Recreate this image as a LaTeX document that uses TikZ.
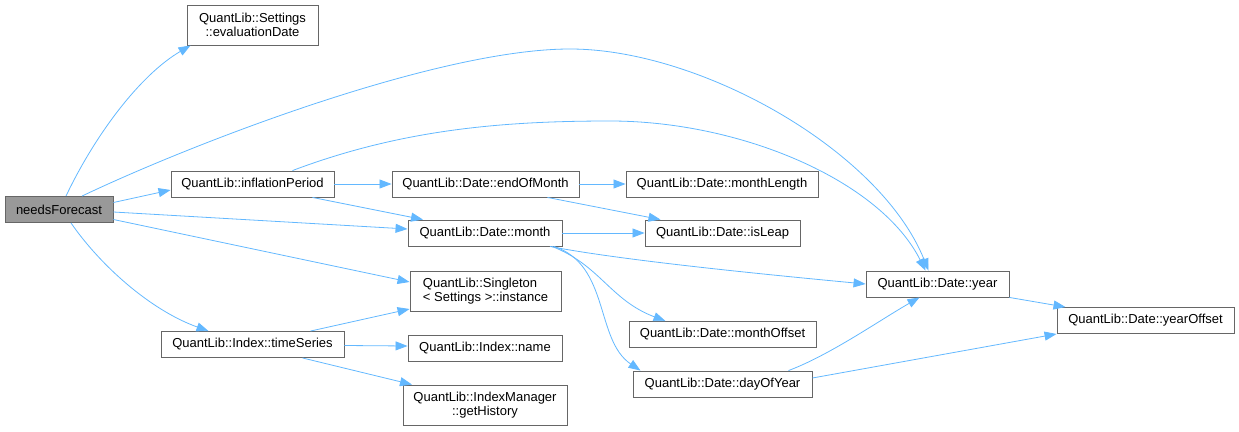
\documentclass[tikz,border=0pt]{standalone}
\usepackage{fontspec}
\setmainfont{Liberation Sans}
\usepackage{tikz}
\usetikzlibrary{
    arrows.meta,
    positioning,
    calc
}
\definecolor{EdgeBlue}{RGB}{99,184,255}
\definecolor{BoxGray}{RGB}{102,102,102}
\definecolor{RootGray}{RGB}{153,153,153}
\tikzset{
  func/.style  = {draw=BoxGray, line width=0.9pt, fill=white, inner sep=0pt,
                  minimum height=26pt, align=center,
                  font=\fontsize{13}{14.5}\selectfont},
  func2/.style = {func, minimum height=40pt},
  root/.style  = {func, fill=RootGray},
  arr/.style   = {-{Triangle[length=12pt,width=9pt]}, EdgeBlue, line width=0.8pt}
}

\begin{document}
\begin{tikzpicture}[x=1pt, y=-1pt]
\useasboundingbox (0,0) rectangle (1239,431);
% nodes, placed as the layout puts them
\node[root,minimum width=108pt]  (nF)  at (59,209.5)   {needsForecast};
\node[func2,minimum width=131pt] (ev)  at (252.5,25)   {QuantLib::Settings\\::evaluationDate};
\node[func,minimum width=163pt]  (ip)  at (252.5,184)  {QuantLib::inflationPeriod};
\node[func,minimum width=183pt]  (ts)  at (252.5,344.5) {QuantLib::Index::timeSeries};
\node[func,minimum width=187pt]  (eom) at (485.5,184)  {QuantLib::Date::endOfMonth};
\node[func,minimum width=154pt]  (mon) at (485,233)    {QuantLib::Date::month};
\node[func2,minimum width=151pt,align=left] (sg) at (485.5,291)
    {QuantLib::Singleton\\< Settings >::instance};
\node[func,minimum width=154pt]  (nm)  at (485,348)    {QuantLib::Index::name};
\node[func2,minimum width=164pt] (gh)  at (485,405)    {QuantLib::IndexManager\\::getHistory};
\node[func,minimum width=192pt]  (ml)  at (722,184)    {QuantLib::Date::monthLength};
\node[func,minimum width=155pt]  (lp)  at (722.5,233)  {QuantLib::Date::isLeap};
\node[func,minimum width=187pt]  (mo)  at (722.5,334.5) {QuantLib::Date::monthOffset};
\node[func,minimum width=179pt]  (doy) at (722.5,384)  {QuantLib::Date::dayOfYear};
\node[func,minimum width=143pt]  (yr)  at (937.5,284)  {QuantLib::Date::year};
\node[func,minimum width=177pt]  (yo)  at (1145.5,320.5) {QuantLib::Date::yearOffset};

% calls from needsForecast
\draw[arr] ([xshift=7pt]nF.north) .. controls (95,135) and (140,75) .. ([xshift=-62pt]ev.south);
\draw[arr] ([xshift=23pt]nF.north) .. controls (200,140) and (440,49) .. (570,49)
           .. controls (700,49) and (880,150) .. ([xshift=-9pt]yr.north);
\draw[arr] ([yshift=7pt]nF.east) -- ([yshift=-6pt]ip.west);
\draw[arr] ([yshift=-2.5pt]nF.east) -- ([yshift=4pt]mon.west);
\draw[arr] ([yshift=-10pt]nF.east) -- ([yshift=9pt]sg.west);
\draw[arr] ([xshift=12pt]nF.south) .. controls (100,265) and (150,310) .. ([xshift=-44pt]ts.north);

% inflationPeriod
\draw[arr] (ip.east) -- (eom.west);
\draw[arr] ([xshift=60pt]ip.south) -- ([xshift=-62pt]mon.north);
\draw[arr] ([xshift=40pt]ip.north) .. controls (400,130) and (500,121) .. (610,121)
           .. controls (740,121) and (880,180) .. ([xshift=-12pt]yr.north);

% endOfMonth and month
\draw[arr] (eom.east) -- (ml.west);
\draw[arr] ([xshift=62pt]eom.south) -- ([xshift=-62pt]lp.north);
\draw[arr] (mon.east) -- (lp.west);
\draw[arr] ([xshift=65pt]mon.south) .. controls (620,260) and (760,274) .. (yr.west);
\draw[arr] ([xshift=67pt]mon.south) .. controls (600,265) and (610,300) .. ([xshift=-57pt]mo.north);
\draw[arr] ([xshift=69pt]mon.south) .. controls (610,265) and (595,340) .. ([xshift=-82pt]doy.north);

% timeSeries
\draw[arr] ([xshift=58pt]ts.north) -- ([yshift=-18pt]sg.west);
\draw[arr] ([yshift=-1pt]ts.east) -- ([yshift=2pt]nm.west);
\draw[arr] ([xshift=50pt]ts.south) -- ([xshift=-73pt]gh.north);

% year and dayOfYear
\draw[arr] (yr.south east) -- ([xshift=-80pt]yo.north);
\draw[arr] ([xshift=66pt]doy.north) .. controls (830,355) and (880,320) .. ([xshift=-18pt]yr.south);
\draw[arr] ([yshift=6pt]doy.east) -- (yo.south west);
\end{tikzpicture}
\end{document}
